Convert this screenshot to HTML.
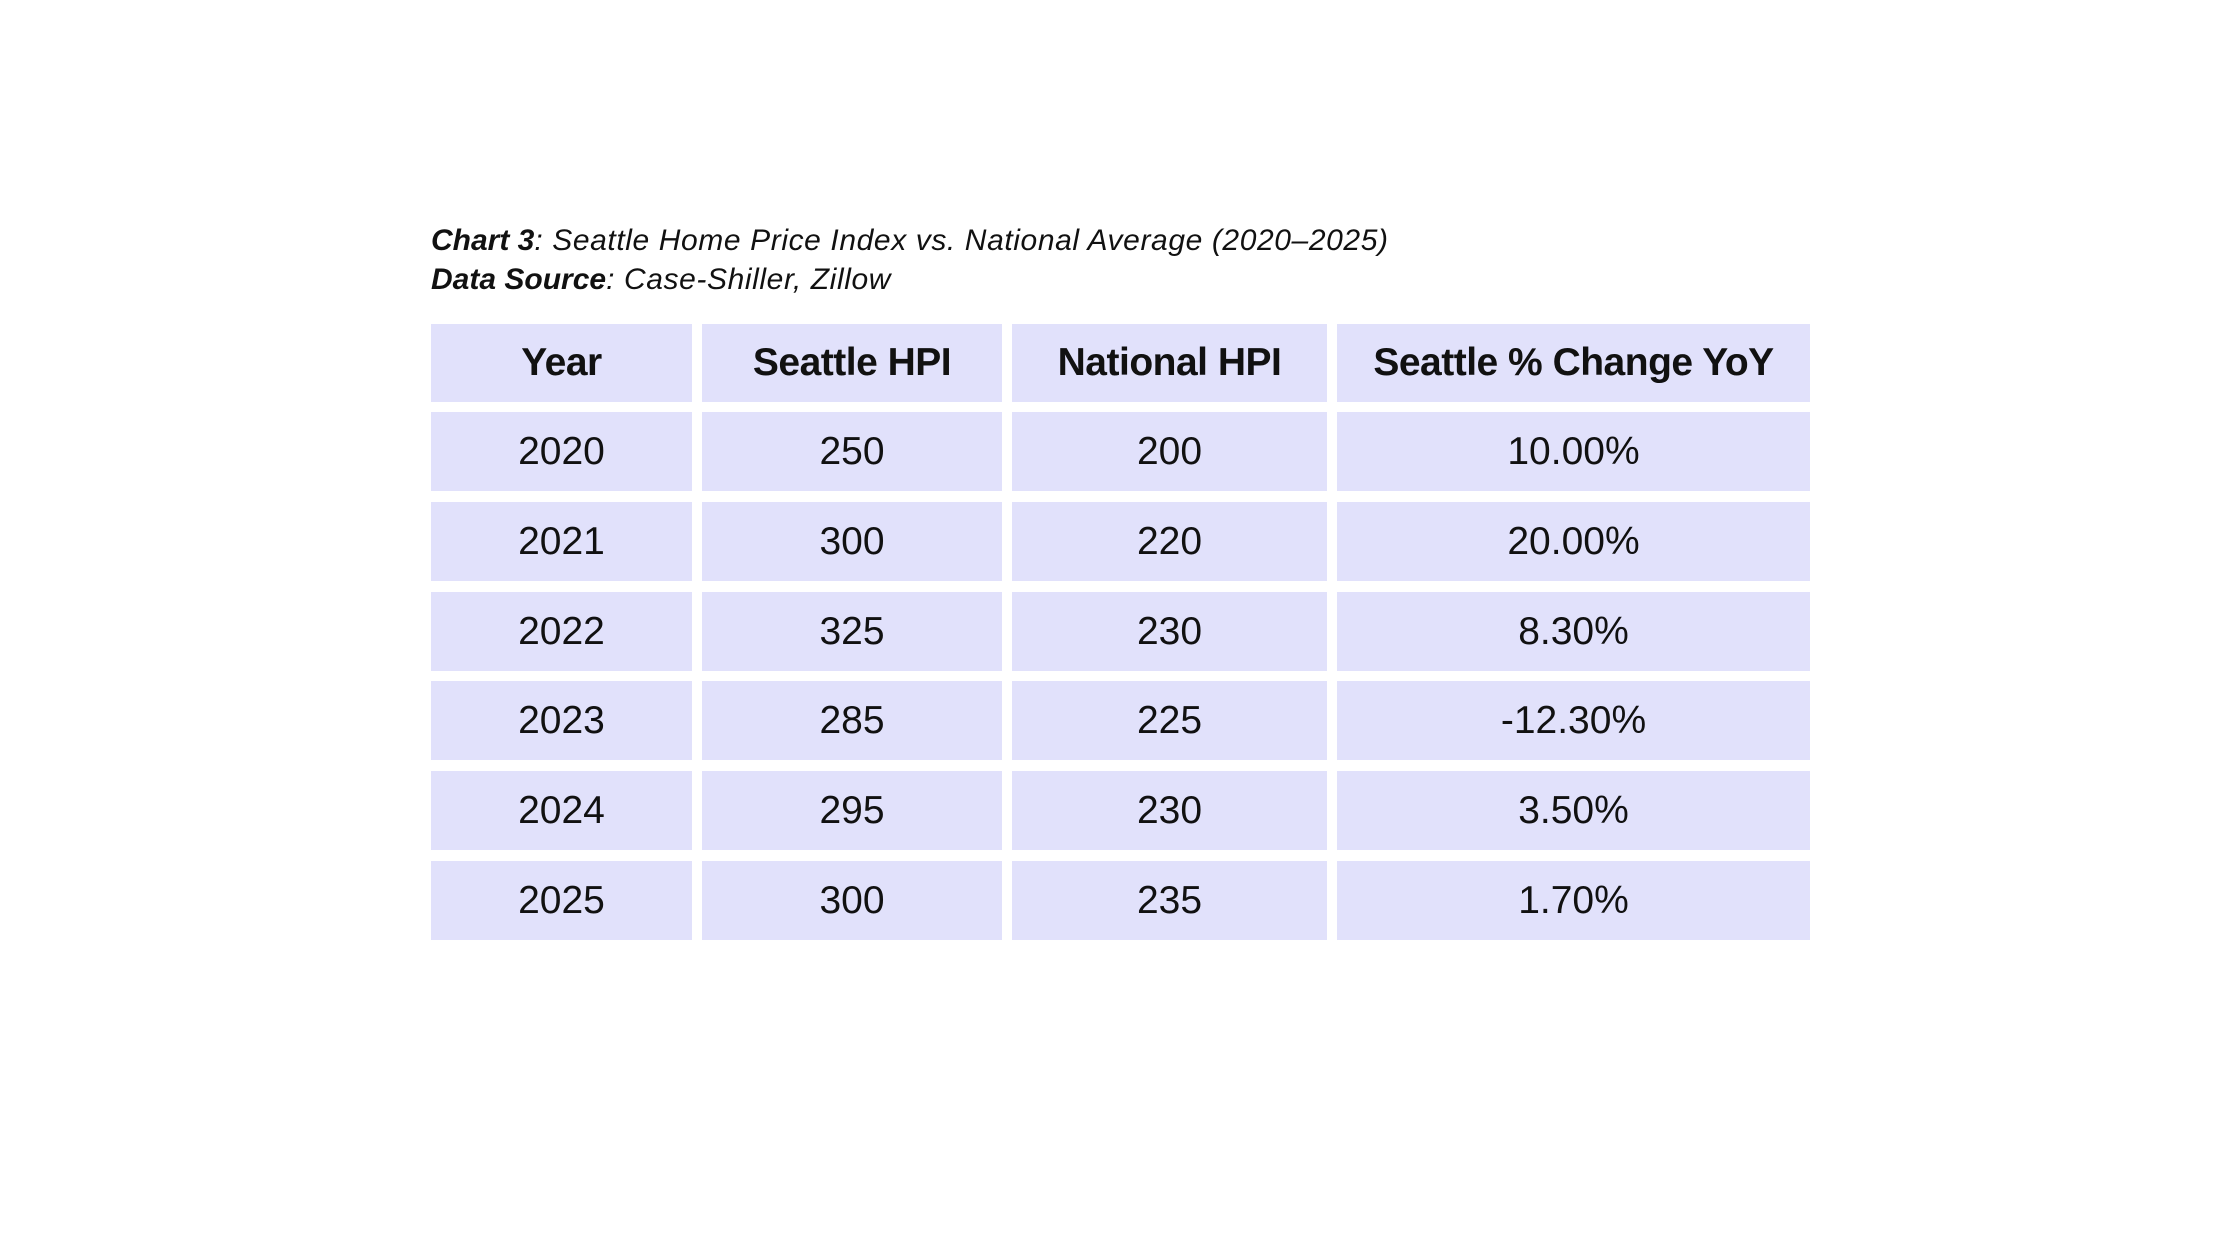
<!DOCTYPE html>
<html><head><meta charset="utf-8"><style>
html,body{margin:0;padding:0;background:#fff;}
body{width:2240px;height:1260px;position:relative;overflow:hidden;font-family:"Liberation Sans",sans-serif;color:#111;}
.t{position:absolute;left:431px;font-size:30px;font-style:italic;white-space:nowrap;letter-spacing:0.6px;}
.t b{font-weight:bold;letter-spacing:0;}
.c{position:absolute;background:#e1e1fb;display:flex;align-items:center;justify-content:center;font-size:39px;height:79px;}
.h{font-weight:bold;letter-spacing:-0.5px;height:78px;top:324px;}
.a{left:431px;width:261px}.b{left:702px;width:300px}.d{left:1012px;width:315px}.e{left:1337px;width:473px}
</style></head><body>
<div class="t" style="top:224px"><b>Chart 3</b>: Seattle Home Price Index vs. National Average (2020–2025)</div>
<div class="t" style="top:263px"><b>Data Source</b>: Case-Shiller, Zillow</div>

<div class="c h a">Year</div><div class="c h b">Seattle HPI</div><div class="c h d">National HPI</div><div class="c h e">Seattle % Change YoY</div>

<div class="c a" style="top:412px">2020</div><div class="c b" style="top:412px">250</div><div class="c d" style="top:412px">200</div><div class="c e" style="top:412px">10.00%</div>
<div class="c a" style="top:502px">2021</div><div class="c b" style="top:502px">300</div><div class="c d" style="top:502px">220</div><div class="c e" style="top:502px">20.00%</div>
<div class="c a" style="top:592px">2022</div><div class="c b" style="top:592px">325</div><div class="c d" style="top:592px">230</div><div class="c e" style="top:592px">8.30%</div>
<div class="c a" style="top:681px">2023</div><div class="c b" style="top:681px">285</div><div class="c d" style="top:681px">225</div><div class="c e" style="top:681px">-12.30%</div>
<div class="c a" style="top:771px">2024</div><div class="c b" style="top:771px">295</div><div class="c d" style="top:771px">230</div><div class="c e" style="top:771px">3.50%</div>
<div class="c a" style="top:861px">2025</div><div class="c b" style="top:861px">300</div><div class="c d" style="top:861px">235</div><div class="c e" style="top:861px">1.70%</div>
</body></html>
